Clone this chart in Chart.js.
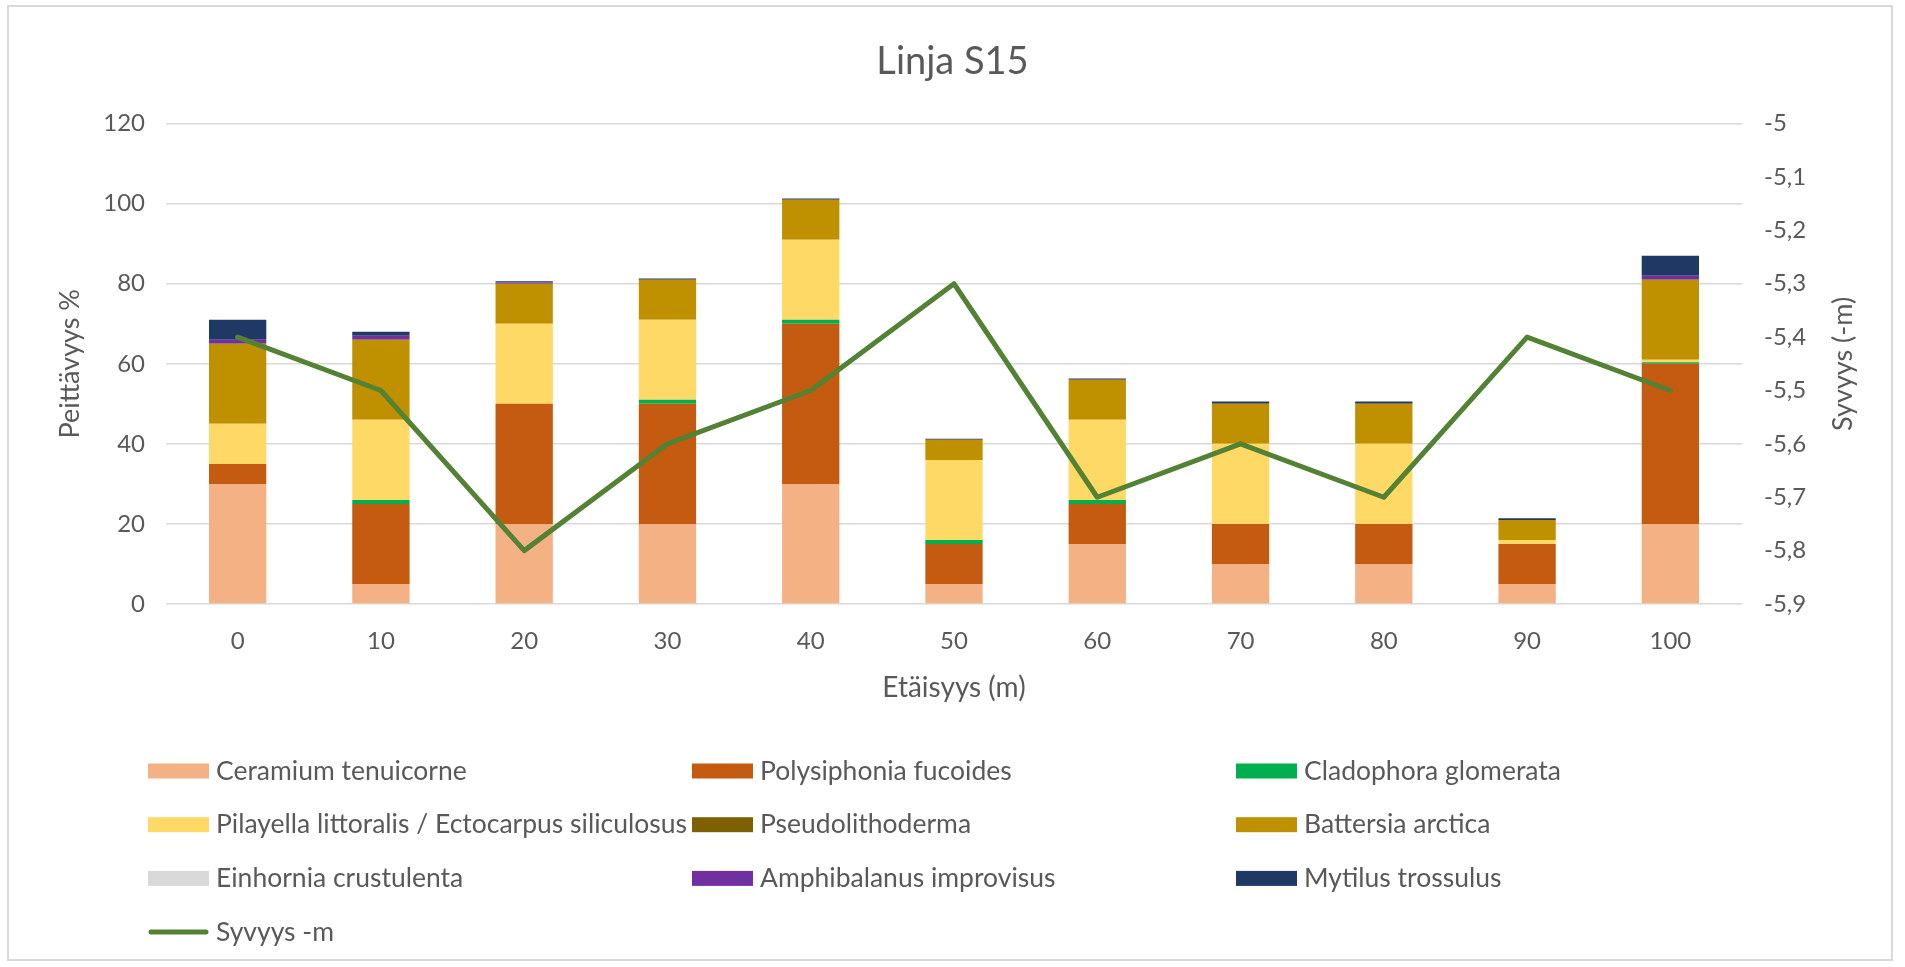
<!DOCTYPE html>
<html>
<head>
<meta charset="utf-8">
<title>Linja S15</title>
<script src="https://cdn.jsdelivr.net/npm/chart.js@4.4.1/dist/chart.umd.min.js"></script>
<style>
  html, body { margin: 0; padding: 0; background: #ffffff; overflow: hidden; }
  #frame {
    position: absolute; left: 7px; top: 5px; width: 1886px; height: 956px;
    border: 2px solid #d9d9d9; box-sizing: border-box;
  }
  #chart { position: absolute; left: 0; top: 0; }
</style>
</head>
<body>
<div id="frame"></div>
<canvas id="chart" width="1905" height="967"></canvas>
<script>
// Etäisyys linjalla (m)
const distances = ['0', '10', '20', '30', '40', '50', '60', '70', '80', '90', '100'];

// Peittävyys % lajeittain
const ceramium = [30, 5, 20, 20, 30, 5, 15, 10, 10, 5, 20];
const polysiphonia = [5, 20, 30, 30, 40, 10, 10, 10, 10, 10, 40];
const cladophora = [0, 1, 0, 1, 1, 1, 1, 0, 0, 0, 0.4];
const pilayella = [10, 20, 20, 20, 20, 20, 20, 20, 20, 1, 0.6];
const pseudolithoderma = [0, 0, 0, 0, 0, 0, 0, 0, 0, 0, 0];
const battersia = [20, 20, 10, 10, 10, 5, 10, 10, 10, 5, 20];
const einhornia = [0, 0, 0, 0, 0, 0, 0, 0, 0, 0, 0];
const amphibalanus = [1, 1, 0.3, 0, 0, 0, 0, 0, 0, 0, 1];
const mytilus = [5, 1, 0.3, 0.3, 0.3, 0.3, 0.3, 0.6, 0.6, 0.4, 5];

// Syvyys (-m)
const depth = [-5.4, -5.5, -5.8, -5.6, -5.5, -5.3, -5.7, -5.6, -5.7, -5.4, -5.5];

const leftTicks = { min: 0, max: 120, step: 20 };
const rightTicks = { min: -5.9, max: -5, step: 0.1 };

const FONT = 'Lato';
const TEXT = '#595959';

function bar(label, data, color) {
  return {
    type: 'bar',
    label: label,
    data: data,
    backgroundColor: color,
    borderWidth: 0,
    barPercentage: 0.4,
    categoryPercentage: 1,
    stack: 'cover',
    yAxisID: 'y',
    order: 1
  };
}

// selite kolmeen sarakkeeseen kaavion alle
const gridLegend = {
  id: 'gridLegend',
  afterDraw(chart, args, opts) {
    const ctx = chart.ctx;
    ctx.save();
    ctx.font = opts.size + 'px ' + FONT;
    ctx.textBaseline = 'middle';
    ctx.textAlign = 'left';
    chart.data.datasets.forEach((ds, i) => {
      const x = opts.left + (i % 3) * opts.colWidth;
      const y = opts.top + Math.floor(i / 3) * opts.rowHeight;
      if (ds.type === 'line') {
        ctx.strokeStyle = ds.borderColor;
        ctx.lineWidth = ds.borderWidth;
        ctx.lineCap = 'round';
        ctx.beginPath();
        ctx.moveTo(x + 3, y);
        ctx.lineTo(x + opts.boxWidth - 3, y);
        ctx.stroke();
      } else {
        ctx.fillStyle = ds.backgroundColor;
        ctx.fillRect(x, y - opts.boxHeight / 2, opts.boxWidth, opts.boxHeight);
      }
      ctx.fillStyle = TEXT;
      ctx.fillText(ds.label, x + opts.boxWidth + opts.gap, y);
    });
    ctx.restore();
  }
};

// oikean akselin otsikko luetaan alhaalta ylös kuten vasemmalla
const rightTitle = {
  id: 'rightTitle',
  afterDraw(chart, args, opts) {
    const ctx = chart.ctx;
    const area = chart.chartArea;
    ctx.save();
    ctx.translate(opts.x, (area.top + area.bottom) / 2);
    ctx.rotate(-Math.PI / 2);
    ctx.font = opts.size + 'px ' + FONT;
    ctx.fillStyle = TEXT;
    ctx.textAlign = 'center';
    ctx.textBaseline = 'middle';
    ctx.fillText(opts.text, 0, 0);
    ctx.restore();
  }
};

function draw() {
  Chart.defaults.font.family = FONT;
  Chart.defaults.color = TEXT;

  const ctx = document.getElementById('chart').getContext('2d');
  new Chart(ctx, {
    data: {
      labels: distances,
      datasets: [
        bar('Ceramium tenuicorne', ceramium, '#F4B183'),
        bar('Polysiphonia fucoides', polysiphonia, '#C55A11'),
        bar('Cladophora glomerata', cladophora, '#00B050'),
        bar('Pilayella littoralis / Ectocarpus siliculosus', pilayella, '#FFD966'),
        bar('Pseudolithoderma', pseudolithoderma, '#7F6000'),
        bar('Battersia arctica', battersia, '#BF9000'),
        bar('Einhornia crustulenta', einhornia, '#D9D9D9'),
        bar('Amphibalanus improvisus', amphibalanus, '#7030A0'),
        bar('Mytilus trossulus', mytilus, '#203864'),
        {
          type: 'line',
          label: 'Syvyys -m',
          data: depth,
          borderColor: '#548235',
          backgroundColor: '#548235',
          borderWidth: 5,
          borderCapStyle: 'round',
          borderJoinStyle: 'round',
          pointRadius: 0,
          tension: 0,
          fill: false,
          yAxisID: 'y2',
          order: 0
        }
      ]
    },
    options: {
      responsive: false,
      animation: false,
      layout: { padding: { left: 0, right: 0, top: 0, bottom: 253 } },
      plugins: {
        legend: { display: false },
        tooltip: { enabled: false },
        title: {
          display: true,
          text: 'Linja S15',
          color: TEXT,
          font: { family: FONT, size: 38, weight: 'normal' },
          padding: { top: 39, bottom: 39 }
        },
        gridLegend: {
          left: 148, top: 771, colWidth: 544, rowHeight: 53.7,
          boxWidth: 61, boxHeight: 15, gap: 7, size: 26.5
        },
        rightTitle: { text: 'Syvyys (-m)', x: 1843, size: 27 }
      },
      scales: {
        x: {
          stacked: true,
          grid: { display: false, drawTicks: false },
          border: { display: false },
          ticks: { font: { size: 24 }, padding: 23 },
          title: {
            display: true,
            text: 'Etäisyys (m)',
            font: { size: 28 },
            padding: { top: 0, bottom: 9 }
          },
          afterFit(scale) { scale.height = 110; }
        },
        y: {
          type: 'linear',
          position: 'left',
          stacked: true,
          min: leftTicks.min,
          max: leftTicks.max,
          grid: { color: '#d9d9d9', lineWidth: 1.5, drawTicks: false },
          border: { display: false },
          ticks: { stepSize: leftTicks.step, font: { size: 24 }, padding: 21 },
          title: {
            display: true,
            text: 'Peittävyys %',
            font: { size: 27 },
            padding: { top: 54, bottom: 0 }
          },
          afterFit(scale) { scale.width = 166; }
        },
        y2: {
          type: 'linear',
          position: 'right',
          stacked: false,
          min: rightTicks.min,
          max: rightTicks.max,
          grid: { display: false, drawTicks: false },
          border: { display: false },
          ticks: {
            stepSize: rightTicks.step,
            font: { size: 24 },
            padding: 22,
            callback: v => String(Math.round(v * 10) / 10).replace('.', ',')
          },
          afterFit(scale) { scale.width = 163; }
        }
      }
    },
    plugins: [gridLegend, rightTitle]
  });
}

document.fonts.load('24px ' + FONT).then(draw, draw);
</script>
</body>
</html>
